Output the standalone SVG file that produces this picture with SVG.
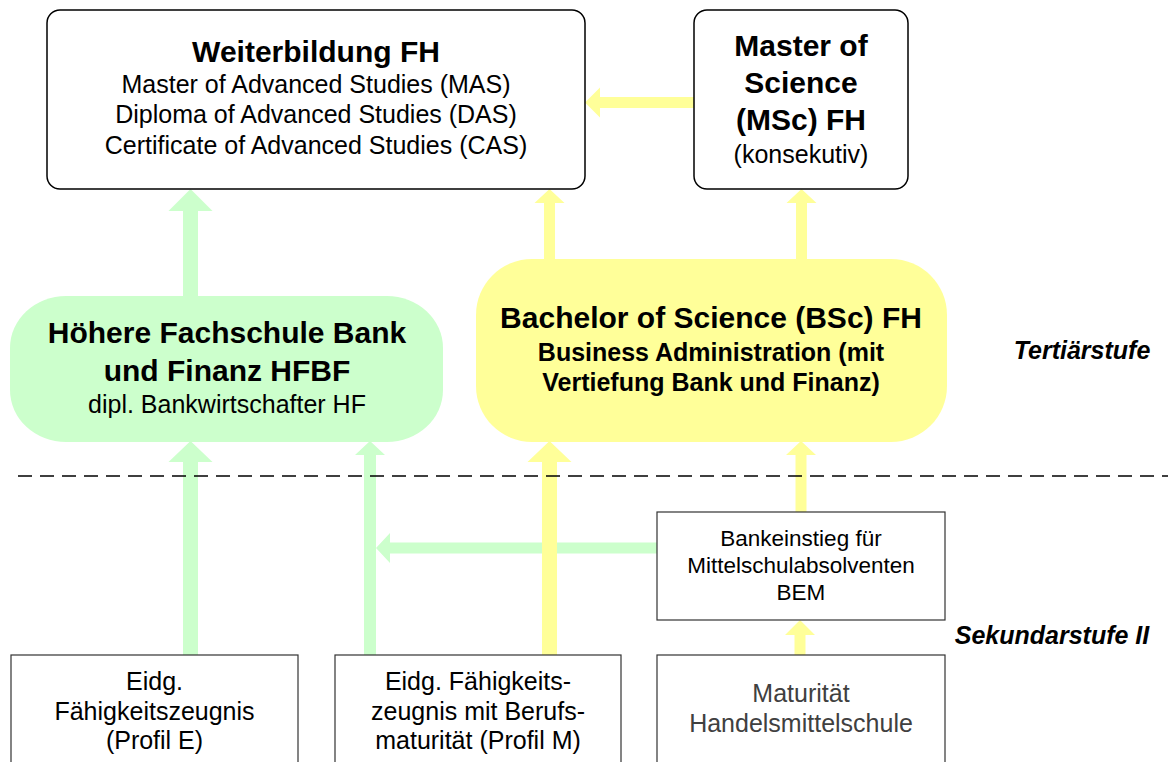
<svg xmlns="http://www.w3.org/2000/svg" width="1168" height="762" viewBox="0 0 1168 762">
<style>
text{font-family:"Liberation Sans",Arial,sans-serif;text-anchor:middle;fill:#000}
.t{font-weight:bold;font-size:30px}
.r{font-size:25px}
.b{font-weight:bold;font-size:25px}
.s{font-size:22.5px}
.lvl{font-weight:bold;font-style:italic;font-size:25px}
.g{fill:#CCFFCC}
.y{fill:#FFFF99}
.box{fill:#fff;stroke:#000;stroke-width:1.5}
.sq{fill:#fff;stroke:#333;stroke-width:1.2}
</style>
<rect width="1168" height="762" fill="#fff"/>
<g id="connectors">
<polygon class="g" points="190.5,189 212.5,211 198,211 198,297 183,297 183,211 168.5,211"/>
<polygon class="y" points="549.5,189 564.5,203 555,203 555,261 544,261 544,203 534.5,203"/>
<polygon class="y" points="801.5,189 816.5,203 807,203 807,261 796,261 796,203 786.5,203"/>
<polygon class="y" points="585,102.5 600,87.5 600,97 695,97 695,108 600,108 600,117.5"/>
<polygon class="g" points="190.5,441 212.5,462 198,462 198,656 183,656 183,462 168.5,462"/>
<polygon class="g" points="376,548 390,533 390,542.5 658,542.5 658,553.5 390,553.5 390,563"/>
<polygon class="g" points="370,441 385,455 376,455 376,656 364,656 364,455 355,455"/>
<polygon class="y" points="549.5,441 571.5,462 557,462 557,656 542,656 542,462 527.5,462"/>
<polygon class="y" points="801,441 816,455 806.5,455 806.5,513 795.5,513 795.5,455 786,455"/>
<polygon class="y" points="800,620 815,635 805.5,635 805.5,656 794.5,656 794.5,635 785,635"/>
</g>
<g id="weiterbildung">
<rect class="box" x="47" y="10" width="538" height="179" rx="13"/>
<text class="t" x="316" y="62">Weiterbildung FH</text>
<text class="r" x="316" y="93">Master of Advanced Studies (MAS)</text>
<text class="r" x="316" y="123">Diploma of Advanced Studies (DAS)</text>
<text class="r" x="316" y="154">Certificate of Advanced Studies (CAS)</text>
</g>
<g id="msc">
<rect class="box" x="694" y="10" width="214" height="179" rx="13"/>
<text class="t" x="801" y="56">Master of</text>
<text class="t" x="801" y="93">Science</text>
<text class="t" x="801" y="130">(MSc) FH</text>
<text class="r" x="801" y="163">(konsekutiv)</text>
</g>
<g id="hfbf">
<rect class="g" x="10" y="296" width="433" height="146" rx="56" ry="52"/>
<text class="t" x="227" y="343">Höhere Fachschule Bank</text>
<text class="t" x="227" y="381">und Finanz HFBF</text>
<text class="r" x="227" y="413">dipl. Bankwirtschafter HF</text>
</g>
<g id="bsc">
<rect class="y" x="476" y="259" width="471" height="183" rx="56" ry="56"/>
<text class="t" x="711" y="328">Bachelor of Science (BSc) FH</text>
<text class="b" x="711" y="361">Business Administration (mit</text>
<text class="b" x="711" y="391">Vertiefung Bank und Finanz)</text>
</g>
<g id="tertiaer">
<text class="lvl" x="1082" y="359">Tertiärstufe</text>
</g>
<line x1="18" y1="476" x2="1168" y2="476" stroke="#000" stroke-width="1.5" stroke-dasharray="14 8"/>
<g id="bem">
<rect class="sq" x="657" y="512" width="288" height="108"/>
<text class="s" x="801" y="546">Bankeinstieg für</text>
<text class="s" x="801" y="573">Mittelschulabsolventen</text>
<text class="s" x="801" y="600">BEM</text>
</g>
<g id="sekundar">
<text class="lvl" x="1052" y="644">Sekundarstufe II</text>
</g>
<g id="efz-e">
<rect class="sq" x="11" y="655" width="287" height="120"/>
<text class="r" x="154.5" y="690">Eidg.</text>
<text class="r" x="154.5" y="720">Fähigkeitszeugnis</text>
<text class="r" x="154.5" y="749">(Profil E)</text>
</g>
<g id="efz-m">
<rect class="sq" x="335" y="655" width="286" height="120"/>
<text class="r" x="478" y="690">Eidg. Fähigkeits-</text>
<text class="r" x="478" y="720">zeugnis mit Berufs-</text>
<text class="r" x="478" y="749">maturität (Profil M)</text>
</g>
<g id="maturitaet">
<rect class="sq" x="657" y="655" width="288" height="120"/>
<text class="r" x="801" y="702" style="fill:#404040">Maturität</text>
<text class="r" x="801" y="732" style="fill:#404040">Handelsmittelschule</text>
</g>
</svg>
